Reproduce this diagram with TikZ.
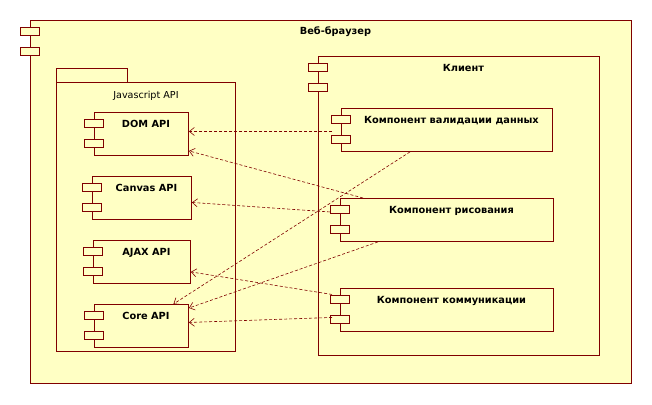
\documentclass[tikz,border=0pt]{standalone}
\usepackage{fontspec}
\newfontfamily\umlfont{DejaVu Sans}
\usetikzlibrary{calc,arrows.meta}
\definecolor{umlfill}{RGB}{255,255,196}
\definecolor{umlline}{RGB}{128,0,0}
\tikzset{
  comp/.style={draw=umlline, fill=umlfill, line width=0.9pt, rectangle, anchor=north west, inner sep=0pt},
  comptab/.style={draw=umlline, fill=umlfill, line width=0.9pt},
  title/.style={font=\umlfont\bfseries\fontsize{9.8}{11}\selectfont, text=black, anchor=base, inner sep=0pt},
  plain/.style={font=\umlfont\fontsize{9.6}{11}\selectfont, text=black, anchor=base, inner sep=0pt},
  dep/.style={-{Straight Barb[length=5pt,width=8pt]}, draw=umlline, line width=0.6pt, dash pattern=on 3pt off 2pt}
}
% title of a component, centred right of its tabs
\newcommand{\comptitle}[2]{%
  \node[title] (#1T) at ($(#1.north west)!0.5!(#1.north east)+(4.5,15)$) {#2};}

\begin{document}
\begin{tikzpicture}[x=1pt,y=-1pt]
  \useasboundingbox (0,0) rectangle (652,404);

  % outer component
  \node[comp, minimum width=601pt, minimum height=363pt] (browser) at (30,20) {};
  \comptitle{browser}{Веб-браузер}

  % package
  \draw[comptab] (56,68) rectangle (127,82);
  \node[comp, minimum width=179pt, minimum height=269pt] (pkg) at (56,82) {};
  \node[plain] (pkgT) at ($(pkg.north)+(0,16)$) {Javascript API};

  \node[comp, minimum width=94pt, minimum height=43pt] (dom) at (94,112) {};
  \node[comp, minimum width=99pt, minimum height=43pt] (canvas) at (92,176) {};
  \node[comp, minimum width=97pt, minimum height=43pt] (ajax) at (93,240) {};
  \node[comp, minimum width=94pt, minimum height=43pt] (core) at (94,304) {};
  \comptitle{dom}{DOM API}
  \comptitle{canvas}{Canvas API}
  \comptitle{ajax}{AJAX API}
  \comptitle{core}{Core API}

  % client
  \node[comp, minimum width=281pt, minimum height=299pt] (client) at (318,56) {};
  \comptitle{client}{Клиент}
  \node[comp, minimum width=211pt, minimum height=43pt] (val) at (341,108) {};
  \node[comp, minimum width=213pt, minimum height=43pt] (draw) at (340,198) {};
  \node[comp, minimum width=213pt, minimum height=43pt] (comm) at (340,288) {};
  \comptitle{val}{Компонент валидации данных}
  \comptitle{draw}{Компонент рисования}
  \comptitle{comm}{Компонент коммуникации}

  % tabs
  \foreach \n in {browser,dom,canvas,ajax,core,client,val,draw,comm}{
    \draw[comptab] ($(\n.north west)+(-10,7)$) rectangle ++(19.5,8);
    \draw[comptab] ($(\n.north west)+(-10,27)$) rectangle ++(19.5,8);
  }

  % dependencies
  \draw[dep] ([xshift=-9pt,yshift=-1.5pt]val.west) -- ([yshift=2.5pt]dom.east);
  \draw[dep] ([xshift=23pt]draw.north west) -- ([yshift=5pt]dom.south east);
  \draw[dep] ([xshift=-10pt,yshift=8pt]draw.west) -- ([yshift=-4.5pt]canvas.east);
  \draw[dep] ([xshift=69pt]val.south west) -- ([xshift=32pt]core.north);
  \draw[dep] ([xshift=38pt]draw.south west) -- ([yshift=-4pt]core.north east);
  \draw[dep] ([xshift=-8pt,yshift=15.5pt]comm.west) -- ([yshift=12pt]ajax.south east);
  \draw[dep] ([xshift=-8pt,yshift=-7.5pt]comm.west) -- ([yshift=3.5pt]core.east);
\end{tikzpicture}
\end{document}
